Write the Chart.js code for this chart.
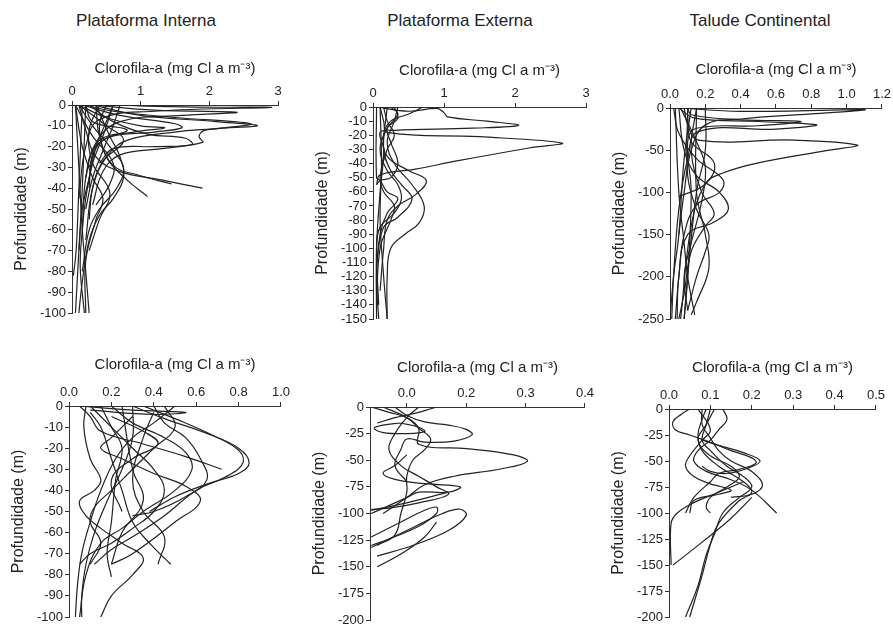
<!DOCTYPE html>
<html>
<head>
<meta charset="utf-8">
<script src="https://cdn.jsdelivr.net/npm/chart.js@4"></script>
<style>
body{margin:0;background:#fff;width:893px;height:625px;overflow:hidden;position:relative;font-family:"Liberation Sans",Arial,sans-serif;}
canvas{position:absolute;}
.titulo{position:absolute;font-size:17px;color:#222;white-space:nowrap;transform:translateX(-50%);}
</style>
</head>
<body>
<div class="titulo" style="left:146px;top:11px">Plataforma Interna</div>
<div class="titulo" style="left:460px;top:11px">Plataforma Externa</div>
<div class="titulo" style="left:760px;top:11px">Talude Continental</div>
<canvas id="c1"></canvas>
<canvas id="c2"></canvas>
<canvas id="c3"></canvas>
<canvas id="c4"></canvas>
<canvas id="c5"></canvas>
<canvas id="c6"></canvas>
<script>
// perfis de clorofila: [clorofila, profundidade]
const internaTopo = [
  [[0.3,0],[1.2,-2.5],[2.4,-3.5],[1.6,-5],[0.7,-8],[0.35,-18],[0.2,-35],[0.15,-60]],
  [[0.5,0],[1.8,-1],[2.9,-1.2],[1.2,-3],[0.4,-7],[0.2,-20],[0.1,-45]],
  [[0.2,0],[0.6,-3],[1.5,-6],[2.6,-9],[2.2,-11],[1.5,-13],[0.8,-17],[0.5,-25],[0.3,-40],[0.2,-65]],
  [[0.3,0],[1.0,-5],[2.1,-8],[2.7,-10],[1.95,-12],[1.85,-15],[1.9,-18],[1.3,-21],[0.7,-24],[0.45,-32],[0.3,-48]],
  [[0.15,0],[0.7,-5],[1.5,-9],[1.6,-11],[1.2,-13],[0.5,-16],[0.3,-25],[0.25,-40]],
  [[0.1,0],[0.5,-6],[1.0,-10],[1.35,-11],[0.9,-13],[0.4,-17],[0.25,-30]],
  [[0.25,0],[0.6,-8],[1.1,-14],[1.65,-16],[1.75,-19],[1.2,-20],[0.6,-21],[0.4,-28]],
  [[0.1,0],[0.3,-10],[0.55,-20],[0.75,-30],[0.65,-40],[0.4,-50],[0.25,-60],[0.15,-80]],
  [[0.1,0],[0.2,-12],[0.35,-25],[0.7,-32],[1.3,-36],[1.9,-40]],
  [[0.35,0],[0.4,-15],[0.6,-29],[1.0,-34],[1.45,-38]],
  [[0.5,0],[0.4,-10],[0.5,-25],[0.8,-36],[1.1,-44]],
  [[0.6,0],[0.5,-8],[0.35,-20],[0.25,-35],[0.15,-50],[0.1,-70]],
  [[0.05,0],[0.1,-30],[0.15,-60],[0.2,-80],[0.25,-100]],
  [[0.2,0],[0.15,-40],[0.1,-70],[0.05,-100]],
  [[0.15,0],[0.1,-40],[0.06,-70],[0.02,-82]],
  [[0.35,0],[0.55,-15],[0.7,-25],[0.75,-35],[0.6,-45],[0.4,-53],[0.25,-65],[0.15,-85],[0.1,-100]],
  [[0.05,0],[0.3,-15],[0.6,-28],[0.55,-38],[0.35,-48]],
  [[0.1,0],[0.5,-10],[0.75,-17],[0.45,-27],[0.3,-40],[0.25,-55]],
  [[0.4,0],[0.25,-12],[0.3,-28],[0.55,-42],[0.4,-55],[0.25,-70]],
  [[0.05,0],[0.15,-20],[0.3,-35],[0.45,-45],[0.35,-55],[0.2,-75],[0.2,-100]],
  [[0.6,0],[0.45,-15],[0.3,-28],[0.2,-45],[0.15,-60],[0.12,-78],[0.18,-100]],
  [[0.2,0],[0.3,-8],[0.8,-12],[0.5,-16],[0.3,-22],[0.2,-35]],
  [[0.7,0],[0.6,-10],[0.45,-22],[0.3,-35],[0.2,-50]]
];

const externaTopo = [
  [[0.05,0],[0.5,-3],[0.9,-1],[1.0,-4],[1.05,-7],[1.6,-10],[2.05,-13],[1.4,-15],[0.3,-16.5],[0.1,-18],[0.15,-30],[0.1,-60],[0.05,-100],[0.05,-150]],
  [[0.1,0],[0.15,-10],[0.2,-18],[1.5,-21],[2.66,-25.5],[2.2,-29],[1.2,-38],[0.6,-44],[0.1,-48],[0.05,-55]],
  [[0.7,0],[0.5,-5],[0.25,-10],[0.15,-20],[0.2,-35],[0.5,-45],[0.75,-52],[0.6,-62],[0.35,-70],[0.2,-80],[0.15,-100],[0.1,-130]],
  [[0.35,0],[0.3,-10],[0.2,-25],[0.3,-40],[0.55,-55],[0.72,-70],[0.65,-82],[0.45,-90],[0.25,-100],[0.2,-120],[0.2,-150]],
  [[0.25,0],[0.35,-5],[0.2,-15],[0.1,-30],[0.2,-45],[0.35,-55],[0.4,-65],[0.3,-75],[0.1,-85],[0.05,-100],[0.08,-140]],
  [[0.15,0],[0.2,-10],[0.3,-20],[0.2,-30],[0.1,-50],[0.15,-60],[0.3,-70],[0.25,-80],[0.1,-100],[0.05,-140]],
  [[0.1,0],[0.12,-40],[0.1,-80],[0.15,-120],[0.2,-150]],
  [[0.3,0],[0.35,-8],[0.2,-15],[0.25,-25],[0.35,-40],[0.25,-50],[0.1,-52],[0.05,-55]],
  [[0.05,0],[0.05,-50],[0.1,-52],[0.2,-60],[0.35,-65],[0.2,-75],[0.1,-90],[0.05,-120],[0.08,-150]],
  [[0.2,0],[0.15,-30],[0.25,-45],[0.4,-55],[0.55,-65],[0.35,-78],[0.15,-85],[0.05,-110]]
];

const taludeTopo = [
  [[0.05,0],[0.4,-4],[1.1,-2],[0.8,-7],[0.4,-13],[0.2,-20],[0.12,-50],[0.08,-100],[0.05,-150]],
  [[0.1,0],[0.12,-8],[0.4,-14],[0.74,-16],[0.5,-21],[0.15,-24],[0.1,-40],[0.12,-100],[0.1,-200],[0.08,-250]],
  [[0.05,0],[0.14,-12],[0.5,-16],[0.83,-20],[0.6,-25],[0.16,-28],[0.1,-60],[0.05,-120],[0.02,-200],[0.01,-250]],
  [[0.08,0],[0.1,-20],[0.16,-38],[0.7,-38],[1.06,-44],[0.9,-50],[0.5,-65],[0.3,-77],[0.2,-90],[0.12,-140],[0.06,-250]],
  [[0.02,0],[0.05,-30],[0.15,-60],[0.3,-85],[0.28,-100],[0.15,-115],[0.08,-150],[0.05,-200],[0.03,-250]],
  [[0.05,0],[0.08,-50],[0.15,-80],[0.28,-100],[0.33,-120],[0.25,-135],[0.1,-150],[0.05,-200],[0.04,-250]],
  [[0.1,0],[0.1,-80],[0.15,-120],[0.22,-150],[0.2,-170],[0.15,-200],[0.1,-240]],
  [[0.15,0],[0.12,-50],[0.18,-100],[0.25,-125],[0.2,-140],[0.12,-170],[0.08,-220],[0.05,-250]],
  [[0.15,0],[0.15,-100],[0.2,-150],[0.22,-190],[0.15,-230],[0.12,-245]],
  [[0.03,0],[0.05,-100],[0.08,-160],[0.1,-200],[0.14,-245]],
  [[0.12,0],[0.08,-60],[0.05,-150],[0.02,-200],[0.0,-250]],
  [[0.2,0],[0.2,-50],[0.15,-100],[0.1,-200],[0.08,-250]],
  [[0.06,0],[0.15,-40],[0.2,-70],[0.18,-110],[0.12,-160],[0.08,-200],[0.1,-240]],
  [[0.1,-10],[0.12,-40],[0.25,-65],[0.2,-90],[0.05,-105]]
];

const internaBase = [
  [[0.3,0],[0.45,-6],[0.65,-13],[0.8,-20],[0.85,-27],[0.8,-32],[0.65,-37],[0.5,-43],[0.38,-50]],
  [[0.35,0],[0.5,-6],[0.68,-14],[0.8,-21],[0.82,-27],[0.75,-33],[0.6,-40],[0.45,-52],[0.3,-62],[0.2,-68],[0.12,-75]],
  [[0.05,0],[0.1,-5],[0.15,-12],[0.35,-18],[0.55,-24],[0.72,-30]],
  [[0.2,0],[0.3,-8],[0.45,-15],[0.55,-22],[0.58,-30],[0.5,-40],[0.35,-50],[0.25,-58],[0.15,-65],[0.08,-80],[0.05,-100]],
  [[0.4,0],[0.45,-8],[0.55,-15],[0.62,-25],[0.65,-35],[0.55,-43],[0.4,-50],[0.3,-52]],
  [[0.1,-3],[0.15,-10],[0.2,-25],[0.25,-40],[0.3,-55],[0.38,-65],[0.48,-75]],
  [[0.08,0],[0.07,-10],[0.1,-25],[0.15,-35],[0.12,-40],[0.05,-45],[0.08,-52],[0.15,-58],[0.25,-65],[0.35,-72],[0.3,-80],[0.2,-90],[0.15,-100]],
  [[0.5,0],[0.4,-8],[0.3,-15],[0.22,-25],[0.15,-40],[0.1,-55],[0.06,-70],[0.04,-85],[0.03,-100]],
  [[0.3,0],[0.3,-15],[0.25,-30],[0.18,-45],[0.12,-60],[0.08,-75],[0.06,-90],[0.06,-100]],
  [[0.15,0],[0.2,-10],[0.25,-20],[0.22,-35],[0.2,-55],[0.18,-70],[0.2,-81]],
  [[0.45,0],[0.5,-10],[0.4,-20],[0.3,-30],[0.2,-40],[0.12,-48],[0.1,-55],[0.15,-65],[0.1,-75]],
  [[0.1,0],[0.2,-10],[0.3,-20],[0.4,-30],[0.45,-40],[0.4,-50],[0.3,-58],[0.2,-65],[0.1,-70],[0.05,-75]],
  [[0.2,-5],[0.35,-12],[0.42,-18],[0.3,-25],[0.2,-35],[0.25,-50]],
  [[0.3,-5],[0.2,-15],[0.15,-20],[0.25,-25],[0.4,-32],[0.55,-38],[0.62,-45],[0.5,-55],[0.3,-70],[0.2,-75]],
  [[0.4,-3],[0.35,-15],[0.3,-35],[0.35,-50],[0.45,-62],[0.42,-75]],
  [[0.05,0],[0.3,-2],[0.55,-3],[0.4,-4],[0.1,-2]],
  [[0.25,0],[0.3,-30],[0.35,-45],[0.25,-60],[0.2,-75]]
];

const externaBase = [
  [[0.06,0],[0.1,-10],[0.12,-20],[0.12,-35],[0.2,-39],[0.28,-45],[0.303,-51],[0.26,-58],[0.18,-65],[0.13,-73],[0.1,-85],[0.06,-100]],
  [[0.08,0],[0.1,-8],[0.13,-14],[0.17,-17],[0.2,-21],[0.21,-26],[0.18,-32],[0.13,-33],[0.1,-30],[0.09,-40],[0.08,-55],[0.1,-70]],
  [[0.09,-15],[0.06,-17],[0.045,-20],[0.06,-24],[0.1,-25],[0.13,-23],[0.12,-19],[0.09,-15]],
  [[0.1,-45],[0.08,-55],[0.06,-62],[0.08,-68],[0.13,-72],[0.19,-75],[0.17,-80],[0.12,-80],[0.1,-85],[0.06,-95],[0.04,-100]],
  [[0.04,-132],[0.1,-116],[0.16,-100],[0.19,-96],[0.2,-102],[0.17,-116],[0.11,-130],[0.05,-140]],
  [[0.04,-122],[0.09,-108],[0.13,-97],[0.15,-94],[0.15,-100],[0.12,-112],[0.07,-124],[0.04,-130]],
  [[0.17,-80],[0.1,-90],[0.04,-97]],
  [[0.05,-150],[0.09,-138],[0.13,-122],[0.15,-108]],
  [[0.04,0],[0.07,-5],[0.1,-10],[0.12,-20],[0.14,-30],[0.13,-40],[0.11,-50],[0.1,-65],[0.1,-80],[0.09,-100],[0.08,-120],[0.05,-130]],
  [[0.12,0],[0.1,-10],[0.08,-25],[0.07,-40],[0.09,-55],[0.12,-65],[0.15,-75],[0.17,-82],[0.12,-90],[0.07,-95],[0.04,-96]],
  [[0.15,0],[0.12,-5],[0.08,-10],[0.05,-15]]
];

const taludeBase = [
  [[0.05,0],[0.03,-5],[0.01,-12],[0.015,-20],[0.05,-25],[0.1,-32],[0.15,-40],[0.2,-47],[0.21,-52],[0.17,-58],[0.12,-62],[0.1,-70],[0.06,-85],[0.04,-100]],
  [[0.08,0],[0.08,-15],[0.1,-28],[0.12,-40],[0.15,-50],[0.2,-60],[0.226,-73],[0.2,-82],[0.15,-85]],
  [[0.1,0],[0.09,-15],[0.08,-30],[0.1,-40],[0.14,-55],[0.18,-65],[0.2,-75],[0.17,-85],[0.13,-100],[0.11,-120],[0.09,-140],[0.07,-170],[0.04,-200]],
  [[0.09,0],[0.08,-10],[0.07,-25],[0.08,-40],[0.12,-55],[0.18,-70],[0.2,-80],[0.17,-88],[0.12,-110],[0.1,-130],[0.08,-160],[0.05,-200]],
  [[0.13,0],[0.14,-10],[0.12,-20],[0.1,-30],[0.07,-40],[0.06,-50],[0.09,-60],[0.15,-68],[0.2,-78],[0.26,-100]],
  [[0.07,0],[0.1,-20],[0.08,-30],[0.05,-45],[0.04,-55],[0.06,-65],[0.1,-72],[0.15,-78],[0.12,-82],[0.06,-88],[0.05,-100]],
  [[0.11,0],[0.09,-15],[0.07,-30],[0.1,-45],[0.15,-55],[0.17,-65],[0.14,-75],[0.1,-85],[0.09,-95],[0.1,-100]],
  [[0.2,-85],[0.15,-105],[0.08,-128],[0.01,-150]],
  [[0.18,-70],[0.12,-80],[0.06,-90],[0.02,-100],[0.005,-110],[0.005,-150]],
  [[0.08,-30],[0.12,-35],[0.18,-42],[0.22,-50],[0.19,-57],[0.14,-62],[0.1,-60],[0.08,-55]]
];

// eixo x do painel inferior do meio (rotulos como no original)
const xTicksExternaBase = [0.1, 0.2, 0.3, 0.4];
const xLabelsExternaBase = ["0.0", "0.2", "0.3", "0.4"];

const tituloX = "Clorofila-a (mg Cl a m\u207B\u00B3)";
const tituloY = "Profundidade (m)";
const fonte = '"Liberation Sans", Arial, sans-serif';

function desenha(id, area, perfis, eixoX, eixoY, gapTitulo) {
  const cv = document.getElementById(id);
  cv.width = area[2] - area[0] + 70;
  cv.height = area[3] - area[1] + 60;
  cv.style.left = (area[0] - 60) + "px";
  cv.style.top = (area[1] - 50) + "px";

  const datasets = perfis.map(p => ({
    data: p.map(v => ({ x: v[0], y: v[1] })),
    showLine: true,
    borderColor: "#222",
    borderWidth: 1.2,
    pointRadius: 0,
    tension: 0.4,
    fill: false
  }));

  const xScale = {
    type: "linear",
    position: "top",
    min: eixoX.min,
    max: eixoX.max,
    ticks: { stepSize: eixoX.step, color: "#222", font: { family: fonte, size: 13 }, padding: 2, maxRotation: 0, autoSkip: false, callback: eixoX.fmt },
    grid: { drawOnChartArea: false, drawTicks: true, tickLength: 4, color: "#333" },
    border: { display: true, color: "#333", width: 1 },
    title: { display: true, text: tituloX, color: "#222", font: { family: fonte, size: 15 }, padding: { top: gapTitulo, bottom: 0 } },
    afterFit(s) { s.height = 50; }
  };
  if (eixoX.ticks) {
    xScale.afterBuildTicks = s => { s.ticks = eixoX.ticks.map(v => ({ value: v })); };
  }

  new Chart(cv, {
    type: "scatter",
    data: { datasets },
    options: {
      responsive: false,
      animation: false,
      devicePixelRatio: 1,
      layout: { padding: { top: 0, left: 0, right: 10, bottom: 10 } },
      plugins: { legend: { display: false }, tooltip: { enabled: false } },
      scales: {
        x: xScale,
        y: {
          type: "linear",
          min: eixoY.min,
          max: 0,
          ticks: { stepSize: eixoY.step, color: "#222", font: { family: fonte, size: 13 }, padding: 2, autoSkip: false },
          grid: { drawOnChartArea: false, drawTicks: true, tickLength: 4, color: "#333" },
          border: { display: true, color: "#333", width: 1 },
          title: { display: true, text: tituloY, color: "#222", font: { family: fonte, size: 16 }, padding: { top: 0, bottom: 0 } },
          afterFit(s) { s.width = 60; }
        }
      }
    }
  });
}

const inteiro = v => String(v);
const umaCasa = v => v.toFixed(1);

desenha("c1", [72, 105, 278, 313], internaTopo, { min: 0, max: 3, step: 1, fmt: inteiro }, { min: -100, step: 10 }, 5);
desenha("c2", [373, 107, 586, 319], externaTopo, { min: 0, max: 3, step: 1, fmt: inteiro }, { min: -150, step: 10 }, 5);
desenha("c3", [670, 108, 883, 319], taludeTopo, { min: 0, max: 1.2, step: 0.2, fmt: umaCasa }, { min: -250, step: 50 }, 3);
desenha("c4", [69, 406, 282, 617], internaBase, { min: 0, max: 1, step: 0.2, fmt: umaCasa }, { min: -100, step: 10 }, 0);
desenha("c5", [370, 407, 586, 620], externaBase, { min: 0.038, max: 0.4, ticks: xTicksExternaBase, fmt: (v, i) => xLabelsExternaBase[i] }, { min: -200, step: 25 }, 2);
desenha("c6", [669, 409, 877, 617], taludeBase, { min: 0, max: 0.5, step: 0.1, fmt: umaCasa }, { min: -200, step: 25 }, 0);
</script>
</body>
</html>
